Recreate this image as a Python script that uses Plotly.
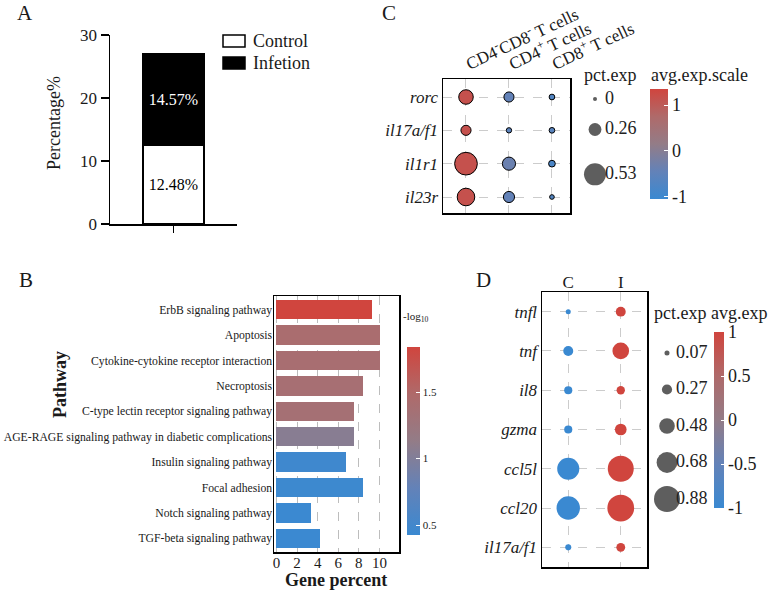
import plotly.graph_objects as go

W, H = 771, 590
SERIF = "Liberation Serif"

# ---------------- data ----------------
# Panel A
a_groups = ["Control", "Infetion"]
a_values = [12.48, 14.57]
a_ticks = [0, 10, 20, 30]

# Panel B
b_pathways = [
    "ErbB signaling pathway",
    "Apoptosis",
    "Cytokine-cytokine receptor interaction",
    "Necroptosis",
    "C-type lectin receptor signaling pathway",
    "AGE-RAGE signaling pathway in diabetic complications",
    "Insulin signaling pathway",
    "Focal adhesion",
    "Notch signaling pathway",
    "TGF-beta signaling pathway",
]
b_gene_percent = [9.24, 10.08, 10.08, 8.40, 7.56, 7.56, 6.72, 8.40, 3.36, 4.20]
b_neglog10 = [1.84, 1.42, 1.40, 1.38, 1.36, 1.05, 0.47, 0.45, 0.43, 0.43]
b_ticks = [0, 2, 4, 6, 8, 10]
b_cbar_ticks = [0.5, 1, 1.5]

# Panel C
c_cells = ["CD4<sup>-</sup>CD8<sup>-</sup> T cells", "CD4<sup>+</sup> T cells", "CD8<sup>+</sup> T cells"]
c_genes = ["rorc", "il17a/f1", "il1r1", "il23r"]
c_pct = [  # rows = genes, cols = cells
    [0.31, 0.18, 0.05],
    [0.18, 0.04, 0.05],
    [0.55, 0.27, 0.08],
    [0.40, 0.21, 0.02],
]
c_avg = [
    [1.15, -0.45, -0.70],
    [1.15, -0.55, -0.60],
    [1.15, -0.35, -0.80],
    [1.15, -0.45, -0.70],
]
c_size_breaks = [0, 0.26, 0.53]
c_cbar_ticks = [-1, 0, 1]
c_cbar_text = ["-1", "0", "1"]

# Panel D
d_groups = ["C", "I"]
d_genes = ["tnfl", "tnf", "il8", "gzma", "ccl5l", "ccl20", "il17a/f1"]
d_pct_C = [0.07, 0.26, 0.19, 0.19, 0.73, 0.78, 0.11]
d_pct_I = [0.26, 0.52, 0.20, 0.33, 0.88, 0.91, 0.22]
d_avg_C = [-1, -1, -1, -1, -1, -1, -1]
d_avg_I = [1, 1, 1, 1, 1, 1, 1]
d_size_breaks = [0.07, 0.27, 0.48, 0.68, 0.88]
d_cbar_ticks = [-1, -0.5, 0, 0.5, 1]
d_cbar_text = ["-1", "-0.5", "0", "0.5", "1"]


# ---------------- helpers ----------------
def px(x):
    return x / W


def py(y):
    return 1 - y / H


def dom_x(x0, x1):
    return [x0 / W, x1 / W]


def dom_y(top, bottom):
    return [1 - bottom / H, 1 - top / H]


# blue -> grey -> red gradient (ggplot-like)
SCALE = [
    [0.0, "#3A89D1"],
    [0.25, "#6382B8"],
    [0.5, "#937C87"],
    [0.75, "#AF6A6A"],
    [1.0, "#D0453E"],
]


def c_size(p):
    return 4 + 34 * p


def d_size(p):
    return 3.2 + 25.9 * p


fig = go.Figure()

# ---------------- Panel A ----------------
a_colors = ["white", "black"]
a_text_colors = ["black", "white"]
for g, v, col, tc in zip(a_groups, a_values, a_colors, a_text_colors):
    fig.add_trace(go.Bar(
        x=[0], y=[v], name=g, width=0.96,
        marker=dict(color=col, line=dict(color="black", width=1.5)),
        text=["%.2f%%" % v], textposition="inside", insidetextanchor="middle",
        textfont=dict(family=SERIF, size=16, color=tc), textangle=0,
        xaxis="x", yaxis="y", showlegend=False,
    ))

# ---------------- Panel B ----------------
fig.add_trace(go.Bar(
    x=b_gene_percent, y=b_pathways, orientation="h", width=0.77,
    marker=dict(color=b_neglog10, coloraxis="coloraxis", line=dict(width=0)),
    xaxis="x2", yaxis="y2", showlegend=False,
))

# ---------------- Panel C ----------------
cx, cy, cs, cc = [], [], [], []
for gi, gene in enumerate(c_genes):
    for ci, cell in enumerate(c_cells):
        cx.append(ci)
        cy.append(gi)
        cs.append(c_size(c_pct[gi][ci]))
        cc.append(c_avg[gi][ci])
fig.add_trace(go.Scatter(
    x=cx, y=cy, mode="markers",
    marker=dict(size=cs, color=cc, coloraxis="coloraxis2", line=dict(color="black", width=1), opacity=1),
    xaxis="x3", yaxis="y3", showlegend=False,
))

# ---------------- Panel D ----------------
for gi_, (pcts, avgs) in enumerate([(d_pct_C, d_avg_C), (d_pct_I, d_avg_I)]):
    fig.add_trace(go.Scatter(
        x=[gi_] * len(d_genes), y=list(range(len(d_genes))), mode="markers",
        marker=dict(size=[d_size(p) for p in pcts], color=avgs, coloraxis="coloraxis3",
                    line=dict(width=0), opacity=1),
        xaxis="x4", yaxis="y4", showlegend=False,
    ))

# ---------------- size legends (overlay pixel axes) ----------------
LEG_GREY = "#5E5E5E"
# C legend
c_leg_y = [99]
for i in range(1, len(c_size_breaks)):
    c_leg_y.append(c_leg_y[-1] + 17 + 0.8 * (c_size(c_size_breaks[i - 1]) + c_size(c_size_breaks[i])))
fig.add_trace(go.Scatter(
    x=[595] * len(c_size_breaks), y=c_leg_y, mode="markers",
    marker=dict(size=[c_size(p) for p in c_size_breaks], color=LEG_GREY, line=dict(width=0), opacity=1),
    xaxis="x5", yaxis="y5", showlegend=False,
))
fig.add_trace(go.Scatter(
    x=[605] * len(c_size_breaks), y=c_leg_y, mode="text",
    text=[("%g" % p) for p in c_size_breaks], textposition="middle right",
    textfont=dict(family=SERIF, size=18, color="#222222"),
    xaxis="x5", yaxis="y5", showlegend=False,
))
# D legend
d_leg_y = [353 + 36.5 * i for i in range(len(d_size_breaks))]
fig.add_trace(go.Scatter(
    x=[667] * len(d_size_breaks), y=d_leg_y, mode="markers",
    marker=dict(size=[d_size(p) for p in d_size_breaks], color=LEG_GREY, line=dict(width=0), opacity=1),
    xaxis="x5", yaxis="y5", showlegend=False,
))
fig.add_trace(go.Scatter(
    x=[676] * len(d_size_breaks), y=d_leg_y, mode="text",
    text=[("%.2f" % p) for p in d_size_breaks], textposition="middle right",
    textfont=dict(family=SERIF, size=18, color="#222222"),
    xaxis="x5", yaxis="y5", showlegend=False,
))

# ---------------- layout ----------------
box = dict(showline=True, linecolor="black", linewidth=1.5, mirror=True, zeroline=False, automargin=False)
grid_dash = dict(showgrid=True, gridcolor="#CCCCCC", griddash="dash", gridwidth=1)
ital = lambda lst: ["<i>%s</i>" % s for s in lst]

fig.update_layout(
    template="none",
    width=W, height=H,
    margin=dict(l=0, r=0, t=0, b=0, pad=0),
    paper_bgcolor="white", plot_bgcolor="rgba(0,0,0,0)",
    font=dict(family=SERIF, color="#1A1A1A"),
    barmode="stack",
    showlegend=False,
    # A
    xaxis=dict(domain=dom_x(110, 237), range=[-1, 1], anchor="y",
               showline=True, linecolor="black", linewidth=1.5,
               ticks="outside", tickvals=[0], ticklen=7, tickwidth=1.5, tickcolor="black",
               showticklabels=False, showgrid=False, zeroline=False, automargin=False),
    yaxis=dict(domain=dom_y(35, 224), range=[0, 30], anchor="x",
               showline=True, linecolor="black", linewidth=1.5,
               ticks="outside", tickvals=a_ticks, ticklen=8, tickwidth=1.5, tickcolor="black",
               tickfont=dict(family=SERIF, size=17), showgrid=False, zeroline=False, automargin=False),
    # B
    xaxis2=dict(domain=dom_x(274, 399), range=[-0.24, 11.9], anchor="y2",
                tickvals=b_ticks, ticks="", tickfont=dict(family=SERIF, size=15), ticklabelstandoff=-4,
                showgrid=True, gridcolor="#BDBDBD", griddash="dash", gridwidth=1, **box),
    yaxis2=dict(domain=dom_y(296, 552), anchor="x2", type="category",
                categoryorder="array", categoryarray=b_pathways, range=[9.54, -0.54],
                ticks="", tickfont=dict(family=SERIF, size=11.7), ticklabelstandoff=-2,
                showgrid=False, **box),
    # C
    xaxis3=dict(domain=dom_x(443, 570), range=[-0.535, 2.42], anchor="y3", side="top",
                tickvals=[0, 1, 2], ticktext=c_cells, tickangle=-25, ticks="",
                tickfont=dict(family=SERIF, size=17), **grid_dash, **box),
    yaxis3=dict(domain=dom_y(79, 213), range=[3.48, -0.54], anchor="x3",
                tickvals=list(range(len(c_genes))), ticktext=ital(c_genes), ticks="",
                tickfont=dict(family=SERIF, size=17), **grid_dash, **box),
    # D
    xaxis4=dict(domain=dom_x(542, 647), range=[-0.5, 1.5], anchor="y4", side="top",
                tickvals=[0, 1], ticktext=d_groups, ticks="", ticklabelstandoff=-4,
                tickfont=dict(family=SERIF, size=17), **grid_dash, **box),
    yaxis4=dict(domain=dom_y(292, 567), range=[6.5, -0.5], anchor="x4",
                tickvals=list(range(len(d_genes))), ticktext=ital(d_genes), ticks="",
                tickfont=dict(family=SERIF, size=17), **grid_dash, **box),
    # overlay in pixel units
    xaxis5=dict(domain=[0, 1], range=[0, W], anchor="y5", visible=False, fixedrange=True, automargin=False),
    yaxis5=dict(domain=[0, 1], range=[H, 0], anchor="x5", visible=False, fixedrange=True, automargin=False),
    coloraxis=dict(
        colorscale=SCALE, cmin=0.425, cmax=1.84,
        colorbar=dict(x=px(407), xanchor="left", y=py(347), yanchor="top",
                      len=188, lenmode="pixels", thickness=13, xpad=0, ypad=0,
                      outlinewidth=0, tickvals=b_cbar_ticks, ticks="inside",
                      tickcolor="white", ticklen=4, tickwidth=1,
                      tickfont=dict(family=SERIF, size=11, color="#1A1A1A")),
    ),
    coloraxis2=dict(
        colorscale=SCALE, cmin=-1.05, cmax=1.35,
        colorbar=dict(x=px(650), xanchor="left", y=py(89), yanchor="top",
                      len=110, lenmode="pixels", thickness=18, xpad=0, ypad=0,
                      outlinewidth=0, tickvals=c_cbar_ticks, ticktext=c_cbar_text,
                      ticks="inside", tickcolor="white", ticklen=4, tickwidth=1,
                      tickfont=dict(family=SERIF, size=18, color="#1A1A1A")),
    ),
    coloraxis3=dict(
        colorscale=SCALE, cmin=-1, cmax=1,
        colorbar=dict(x=px(714), xanchor="left", y=py(332), yanchor="top",
                      len=176, lenmode="pixels", thickness=10, xpad=0, ypad=0,
                      outlinewidth=0, tickvals=d_cbar_ticks, ticktext=d_cbar_text,
                      ticks="inside", tickcolor="white", ticklen=3, tickwidth=1,
                      tickfont=dict(family=SERIF, size=18, color="#1A1A1A")),
    ),
)

# legend keys for panel A
for g, col, yc in zip(a_groups, a_colors, [41, 63]):
    fig.add_shape(type="rect", xref="paper", yref="paper",
                  x0=px(223), x1=px(245), y0=py(yc + 6), y1=py(yc - 6),
                  fillcolor=col, line=dict(color="black", width=1.5))


def ann(text, x, y, size, xanchor="center", yanchor="middle", angle=0, bold=False):
    if bold:
        text = "<b>%s</b>" % text
    fig.add_annotation(text=text, x=px(x), y=py(y), xref="paper", yref="paper",
                       xanchor=xanchor, yanchor=yanchor, showarrow=False, textangle=angle,
                       font=dict(family=SERIF, size=size, color="#1A1A1A"))


for g, yc in zip(a_groups, [41, 63]):
    ann(g, 251, yc, 18, xanchor="left")

ann("A", 25, 13, 21)
ann("B", 26, 280, 21)
ann("C", 389, 13, 21)
ann("D", 483, 280, 21)
ann("Percentage%", 54, 123, 18, angle=-90)
ann("Pathway", 60, 385, 18, angle=-90, bold=True)
ann("Gene percent", 336, 580, 18, bold=True)
ann("-log<sub>10</sub>", 401, 317, 11, xanchor="left")
ann("pct.exp", 582, 75, 18, xanchor="left")
ann("avg.exp.scale", 649, 75, 18, xanchor="left")
ann("pct.exp avg.exp", 652, 313, 18, xanchor="left")

fig.write_html("out.html", config={"displayModeBar": False, "staticPlot": True},
               post_script="document.body.style.margin='0px';")
